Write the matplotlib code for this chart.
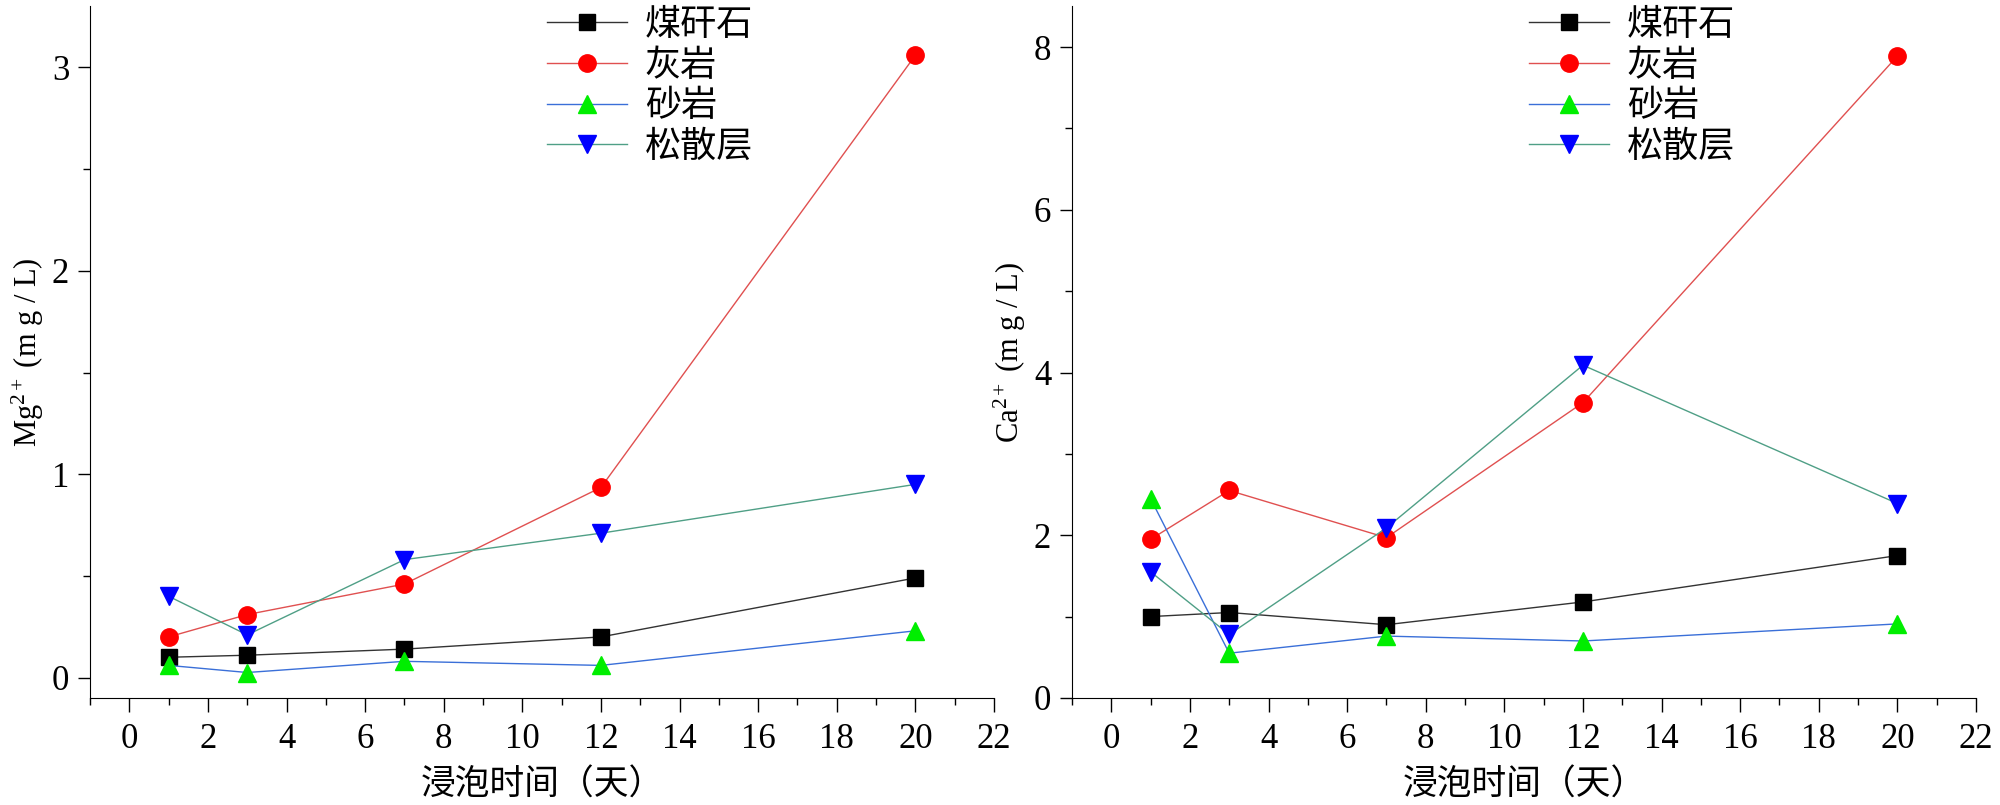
import matplotlib
matplotlib.use("Agg")
import matplotlib.pyplot as plt
from matplotlib.ticker import MultipleLocator

plt.rcParams['font.family'] = ['Liberation Serif', 'DejaVu Serif', 'Noto Sans CJK SC']
plt.rcParams['mathtext.fontset'] = 'custom'
plt.rcParams['mathtext.rm'] = 'Liberation Serif'
plt.rcParams['mathtext.it'] = 'Liberation Serif:italic'
plt.rcParams['mathtext.default'] = 'rm'

# soaking time in days
days = [1, 3, 7, 12, 20]
names = ['煤矸石', '灰岩', '砂岩', '松散层']

# Mg2+ (mg/L)
mg_gangue = [0.10, 0.11, 0.14, 0.20, 0.49]
mg_lime = [0.20, 0.31, 0.46, 0.935, 3.06]
mg_sand = [0.06, 0.025, 0.08, 0.06, 0.23]
mg_loose = [0.40, 0.21, 0.58, 0.71, 0.95]

# Ca2+ (mg/L)
ca_gangue = [1.00, 1.05, 0.90, 1.18, 1.75]
ca_lime = [1.95, 2.55, 1.97, 3.63, 7.89]
ca_sand = [2.45, 0.55, 0.76, 0.70, 0.91]
ca_loose = [1.55, 0.78, 2.09, 4.09, 2.39]

styles = [
    dict(color='#333333', marker='s', mfc='black', mec='black', ms=11),
    dict(color='#e05050', marker='o', mfc='#ff0000', mec='#ff0000', ms=12.5),
    dict(color='#3a6fd8', marker='^', mfc='#00ee00', mec='#00ee00', ms=13.5),
    dict(color='#4f9f86', marker='v', mfc='#0000ff', mec='#0000ff', ms=13.5),
]

fig = plt.figure(figsize=(20, 8.05), dpi=100)
ax1 = fig.add_axes([0.045, 0.133, 0.452, 0.859])
ax2 = fig.add_axes([0.536, 0.133, 0.452, 0.859])


def draw(ax, series, ylim, ymaj, ymin, ylabel):
    for vals, name, st in zip(series, names, styles):
        ax.plot(days, vals, lw=1.0, label=name, **st)
    ax.set_xlim(-1, 22)
    ax.set_ylim(*ylim)
    ax.xaxis.set_major_locator(MultipleLocator(2))
    ax.xaxis.set_minor_locator(MultipleLocator(1))
    ax.yaxis.set_major_locator(MultipleLocator(ymaj))
    ax.yaxis.set_minor_locator(MultipleLocator(ymin))
    for side in ['top', 'right']:
        ax.spines[side].set_visible(False)
    ax.tick_params(axis='x', which='major', direction='out', length=10, width=1, pad=8, labelsize=25)
    ax.tick_params(axis='x', which='minor', direction='out', length=5, width=1)
    ax.tick_params(axis='y', which='major', direction='out', length=9, width=1, pad=6, labelsize=25)
    ax.tick_params(axis='y', which='minor', direction='out', length=5, width=1)
    ax.set_xlabel('浸泡时间（天）', fontsize=25, labelpad=10)
    ax.set_ylabel(ylabel, fontsize=22, labelpad=4)
    ax.legend(loc='upper left', bbox_to_anchor=(0.49, 1.016), frameon=False,
              fontsize=26, handlelength=2.2, handletextpad=0.5, labelspacing=0.2,
              borderaxespad=0)


draw(ax1, [mg_gangue, mg_lime, mg_sand, mg_loose], (-0.1, 3.3), 1, 0.5, r'Mg$^{2+}$ (m g / L)')
draw(ax2, [ca_gangue, ca_lime, ca_sand, ca_loose], (0, 8.5), 2, 1, r'Ca$^{2+}$ (m g / L)')

fig.savefig('out.png', dpi=100)
